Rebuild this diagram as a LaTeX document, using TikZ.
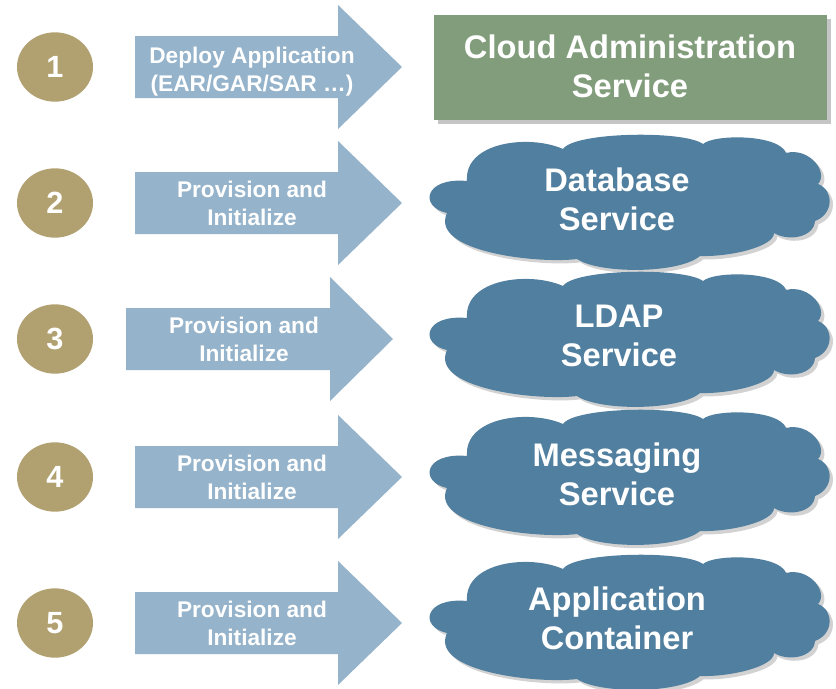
\documentclass[tikz,border=0pt]{standalone}
\usepackage{fontspec}
\setmainfont{Liberation Sans}
\usetikzlibrary{shapes.geometric,shadows}
\definecolor{gold}{HTML}{B1A070}
\definecolor{arrowblue}{HTML}{95B3CA}
\definecolor{cloudblue}{HTML}{517F9F}
\definecolor{sage}{HTML}{819D7B}
\newcommand\bigarrow[4]{% left, head x, tip x, centre y
  \fill[arrowblue] (#1,{#4-31}) -- (#2,{#4-31}) -- (#2,{#4-62}) -- (#3,#4)
    -- (#2,{#4+62}) -- (#2,{#4+31}) -- (#1,{#4+31}) -- cycle;}
\tikzset{
  numdisc/.style={ellipse, fill=gold, minimum width=57pt, minimum height=52pt,
    inner sep=0pt, text=white, font=\bfseries\fontsize{23}{26}\selectfont},
  arrowtext/.style={text=white, align=center, inner sep=0pt,
    font=\bfseries\fontsize{17}{21}\selectfont},
  cloudfill/.style={fill=cloudblue,
    drop shadow={shadow xshift=2.5pt, shadow yshift=-2.5pt, opacity=0.35}},
  cloudtext/.style={text=white, align=center, inner sep=0pt,
    font=\bfseries\fontsize{24.5}{29}\selectfont},
  sagebox/.style={rectangle, fill=sage, minimum width=294.75pt, minimum height=78.75pt,
    inner sep=0pt, drop shadow={shadow xshift=3pt, shadow yshift=-3pt, opacity=0.45}},
  cloudpic/.pic={
    \fill[cloudfill] (-162,-21)
      .. controls (-165,-60) and (-100,-68) .. (-66,-53)
      .. controls (-55,-70) and (55,-72) .. (74,-58)
      .. controls (85,-68) and (150,-68) .. (157,-49)
      .. controls (180,-55) and (200,-30) .. (189,-18)
      .. controls (205,-12) and (205,12) .. (186,19)
      .. controls (185,35) and (160,40) .. (145,31)
      .. controls (145,45) and (100,55) .. (71,54)
      .. controls (50,72) and (-30,72) .. (-52,57)
      .. controls (-90,62) and (-200,50) .. (-182,11)
      .. controls (-210,5) and (-205,-25) .. (-162,-21) -- cycle;
  }
}
\begin{document}
\begin{tikzpicture}[x=0.75pt,y=-0.75pt]
\useasboundingbox (0,0) rectangle (836,689);
\fill[white] (0,0) rectangle (836,689);
% number discs
\node[numdisc] (n1) at (55,67) {1};
\node[numdisc] (n2) at (55,203) {2};
\node[numdisc] (n3) at (55,339) {3};
\node[numdisc] (n4) at (55,477) {4};
\node[numdisc] (n5) at (55,623) {5};
% arrows
\bigarrow{135}{338}{402}{67}
\bigarrow{135}{338}{402}{203}
\bigarrow{126}{330}{393}{339}
\bigarrow{135}{338}{402}{477}
\bigarrow{135}{338}{402}{623}
\node[arrowtext] (a1) at (252,72) {Deploy Application\\(EAR/GAR/SAR …)};
\node[arrowtext] (a2) at (252,203) {Provision and\\Initialize};
\node[arrowtext] (a3) at (244,339) {Provision and\\Initialize};
\node[arrowtext] (a4) at (252,477) {Provision and\\Initialize};
\node[arrowtext] (a5) at (252,623) {Provision and\\Initialize};
% targets
\node[sagebox] (s1) at (630,67.5) {};
\node[cloudtext] (t1) at (630,66) {Cloud Administration\\Service};
\pic at (629,202) {cloudpic};
\pic at (629,339) {cloudpic};
\pic at (629,477) {cloudpic};
\pic at (629,622) {cloudpic};
\node[cloudtext] (t2) at (617,199) {Database\\Service};
\node[cloudtext] (t3) at (619,336) {LDAP\\Service};
\node[cloudtext] (t4) at (617,474) {Messaging\\Service};
\node[cloudtext] (t5) at (617,618) {Application\\Container};
\end{tikzpicture}
\end{document}
